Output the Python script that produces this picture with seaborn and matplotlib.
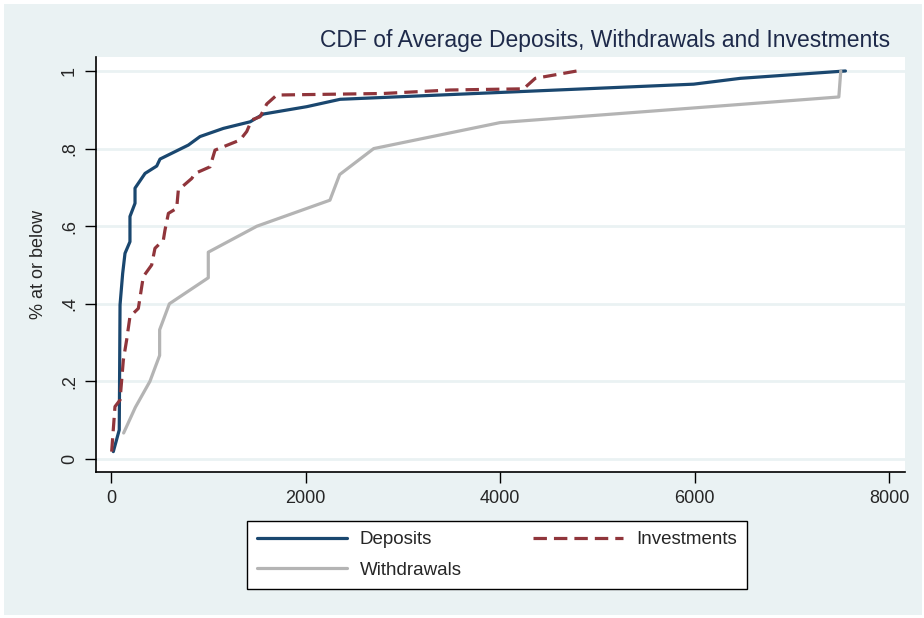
import numpy as np
import pandas as pd
import matplotlib
matplotlib.use("Agg")
import matplotlib.pyplot as plt
from matplotlib.patches import Rectangle
import seaborn as sns

# values (amount, share at or below)
deposits_x = [24, 85, 93, 120, 144, 195, 195, 247, 247, 350, 470, 504, 795, 915,
              1155, 1430, 1566, 2012, 2355, 5988, 6468, 7548]
deposits_y = [0.019, 0.075, 0.397, 0.478, 0.53, 0.56, 0.625, 0.659, 0.698, 0.736,
              0.755, 0.773, 0.809, 0.831, 0.852, 0.869, 0.889, 0.908, 0.927, 0.966,
              0.981, 1.0]

investments_x = [7, 41, 93, 127, 161, 195, 281, 332, 418, 452, 538, 555, 590, 675,
                 692, 830, 864, 1018, 1069, 1326, 1395, 1447, 1532, 1601, 1704,
                 2800, 3486, 4240, 4360, 4789]
investments_y = [0.019, 0.135, 0.152, 0.255, 0.307, 0.367, 0.388, 0.47, 0.5, 0.543,
                 0.564, 0.59, 0.633, 0.646, 0.693, 0.723, 0.736, 0.753, 0.796, 0.822,
                 0.844, 0.874, 0.882, 0.915, 0.938, 0.942, 0.951, 0.954, 0.981, 1.0]

withdrawals_x = [130, 250, 400, 500, 500, 600, 1000, 1000, 1500, 2250, 2350, 2700,
                 4000, 7480, 7500]
withdrawals_y = [0.067, 0.133, 0.2, 0.267, 0.333, 0.4, 0.467, 0.533, 0.6, 0.667,
                 0.733, 0.8, 0.867, 0.933, 1.0]

series = ["Deposits", "Investments", "Withdrawals"]
xticks = [0, 2000, 4000, 6000, 8000]
yticks = [0, 0.2, 0.4, 0.6, 0.8, 1.0]
ytick_labels = ["0", ".2", ".4", ".6", ".8", "1"]

df = pd.concat([
    pd.DataFrame({"x": deposits_x, "y": deposits_y, "series": "Deposits"}),
    pd.DataFrame({"x": investments_x, "y": investments_y, "series": "Investments"}),
    pd.DataFrame({"x": withdrawals_x, "y": withdrawals_y, "series": "Withdrawals"}),
], ignore_index=True)

colors = {"Deposits": "#1a476f", "Investments": "#90353b", "Withdrawals": "#b4b4b4"}
dash = (4.2, 2.2)

bg = "#EAF2F3"
sns.set_style("white")
plt.rcParams["font.family"] = ["Liberation Sans", "DejaVu Sans"]

fig = plt.figure(figsize=(9.24, 6.18), dpi=100)
fig.patch.set_facecolor("white")
fig.patches.append(Rectangle((4 / 924, 3 / 618), 918 / 924, 611 / 618,
                             transform=fig.transFigure, facecolor=bg,
                             edgecolor="none", zorder=-5))

# plot region in pixels: x 96..905, y 57..472
ax = fig.add_axes([96 / 924, 1 - 472 / 618, 809 / 924, 415 / 618])
ax.set_zorder(2)
ax.set_facecolor("white")

sns.lineplot(data=df, x="x", y="y", hue="series", style="series",
             hue_order=series, style_order=series, palette=colors,
             dashes={"Deposits": "", "Investments": dash, "Withdrawals": ""},
             estimator=None, sort=False, linewidth=2.3, ax=ax, legend=False)

ax.set_xlim(-154, 8160)
ax.set_ylim(-0.0335, 1.036)
ax.set_xticks(xticks)
ax.set_xticklabels([str(t) for t in xticks], fontsize=13)
ax.set_yticks(yticks)
ax.set_yticklabels(ytick_labels, fontsize=13, rotation=90, va="center")
ax.tick_params(axis="both", direction="out", length=8, width=1, color="black",
               left=True, bottom=True, pad=5)

for y in yticks:
    ax.axhline(y, color=bg, linewidth=2, zorder=0)

for side in ["top", "right"]:
    ax.spines[side].set_visible(False)
for side in ["left", "bottom"]:
    ax.spines[side].set_color("black")
    ax.spines[side].set_linewidth(1.2)

ax.set_xlabel("")
ax.set_ylabel("% at or below", fontsize=13, labelpad=10)

fig.text(890 / 924, 1 - 40 / 618,
         "CDF of Average Deposits, Withdrawals and Investments",
         ha="right", va="center", fontsize=16.5, color="#1e2a4a")

# column-wise fill: Deposits / Withdrawals in col 1, Investments in col 2
handles = [
    plt.Line2D([], [], color=colors["Deposits"], linewidth=2.3),
    plt.Line2D([], [], color=colors["Withdrawals"], linewidth=2.3),
    plt.Line2D([], [], color=colors["Investments"], linewidth=2.3, dashes=dash),
]
labels = ["Deposits", "Withdrawals", "Investments"]
leg = fig.legend(handles, labels, ncol=2, loc="center",
                 bbox_to_anchor=(497 / 924, 1 - 555 / 618),
                 fontsize=13.5, frameon=True, fancybox=False, framealpha=1,
                 edgecolor="black", handlelength=4.8, handletextpad=0.7,
                 columnspacing=3.8, borderpad=0.55, labelspacing=0.7)
leg.get_frame().set_linewidth(1)
leg.get_frame().set_facecolor("white")

fig.savefig("out.png", dpi=100, facecolor=fig.get_facecolor())
